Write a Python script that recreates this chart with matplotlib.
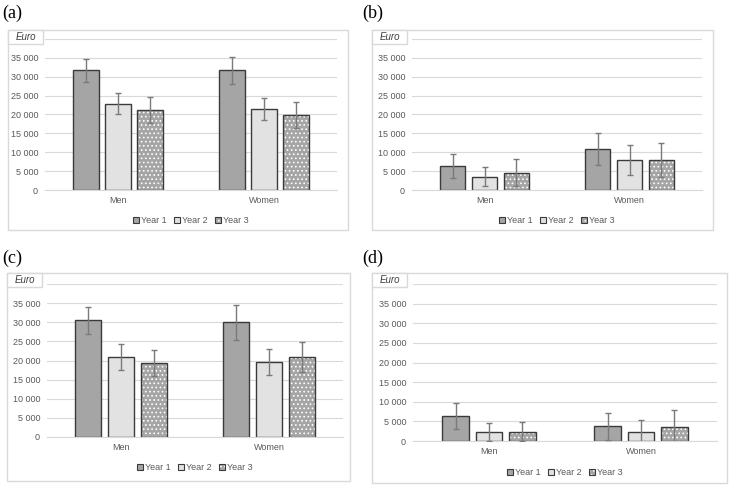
import matplotlib
matplotlib.use("Agg")
from matplotlib import pyplot as plt
from matplotlib.patches import Rectangle, Patch
from matplotlib.legend_handler import HandlerTuple
from matplotlib.ticker import FuncFormatter
import numpy as np

# data (Euro), order: Men, Women
categories = ["Men", "Women"]
series_names = ["Year 1", "Year 2", "Year 3"]

a_values = [[31700, 31700], [22900, 21450], [21250, 19900]]
a_errors = [[3050, 3500], [2900, 3000], [3400, 3350]]

b_values = [[6300, 10800], [3550, 7950], [4600, 7950]]
b_errors = [[3200, 4250], [2600, 3950], [3600, 4550]]

c_values = [[30550, 29950], [20900, 19700], [19350, 21000]]
c_errors = [[3500, 4500], [3400, 3400], [3400, 3900]]

d_values = [[6400, 3750], [2350, 2400], [2400, 3600]]
d_errors = [[3300, 3400], [2300, 3050], [2400, 4350]]

panel_labels = ["(a)", "(b)", "(c)", "(d)"]

W, H = 729, 486
GRID = "#d9d9d9"
TXT = "#595959"
EDGE = "#3a3a3a"
ERR = "#7a7a7a"
fills = ["#a5a5a5", "#e2e2e2", "#a5a5a5"]

plt.rcParams["font.family"] = ["Liberation Sans", "DejaVu Sans"]
plt.rcParams["hatch.linewidth"] = 0.7


def frac(x0, y0, x1, y1):
    # pixel box (top-left origin) -> figure fraction [left, bottom, w, h]
    return [x0 / W, 1 - y1 / H, (x1 - x0) / W, (y1 - y0) / H]


def fmt(v, pos):
    if v >= 40000:
        return ""
    return f"{int(v):,}".replace(",", " ")


fig = plt.figure(figsize=(W / 100, H / 100), dpi=100)

# panel layout: (outer box, plot area, label position)
panels = [
    ((8, 30, 348, 230), (45, 39, 337, 190), (2, 13), a_values, a_errors),
    ((372, 30, 713, 230), (412, 39, 702, 190), (362, 13), b_values, b_errors),
    ((7, 273, 350, 481), (47, 284, 343, 437), (2, 258), c_values, c_errors),
    ((372, 273, 727, 483), (413, 284, 717, 441), (362, 258), d_values, d_errors),
]

x = np.arange(len(categories))
width = 0.175
offsets = [-0.22, 0, 0.22]

for (box, area, lab, values, errors), label in zip(panels, panel_labels):
    bx0, by0, bx1, by1 = box
    fig.patches.append(Rectangle((bx0 / W, 1 - by1 / H), (bx1 - bx0) / W, (by1 - by0) / H,
                                 transform=fig.transFigure, fill=False,
                                 edgecolor=GRID, linewidth=1.0))
    # Euro box in the corner
    fig.patches.append(Rectangle((bx0 / W, 1 - (by0 + 14) / H), 35 / W, 14 / H,
                                 transform=fig.transFigure, facecolor="white",
                                 edgecolor=GRID, linewidth=1.0, zorder=3))
    fig.text((bx0 + 17.5) / W, 1 - (by0 + 7) / H, "Euro", fontsize=7, style="italic",
             color="#404040", ha="center", va="center", zorder=4)
    fig.text(lab[0] / W, 1 - lab[1] / H, label, fontsize=13, family="Liberation Serif",
             ha="left", va="center")

    ax = fig.add_axes(frac(*area))
    handles = []
    for i in range(3):
        pos = x + offsets[i]
        if i < 2:
            ax.bar(pos, values[i], width, color=fills[i], edgecolor=EDGE,
                   linewidth=1.0, zorder=2)
            handles.append(Patch(facecolor=fills[i], edgecolor=EDGE, linewidth=0.8))
        else:
            ax.bar(pos, values[i], width, color=fills[i], edgecolor="white",
                   hatch="....", linewidth=0, zorder=2)
            ax.bar(pos, values[i], width, fill=False, edgecolor=EDGE,
                   linewidth=1.0, zorder=2)
            handles.append((Patch(facecolor=fills[i], edgecolor="white", hatch="....", linewidth=0),
                            Patch(fill=False, edgecolor=EDGE, linewidth=0.8)))
        ax.errorbar(pos, values[i], yerr=errors[i], fmt="none", ecolor=ERR,
                    elinewidth=1.0, capsize=2.2, capthick=1.0, zorder=3)

    ax.set_xlim(-0.5, 1.5)
    ax.set_ylim(0, 40000)
    ax.set_yticks(np.arange(0, 40001, 5000))
    ax.yaxis.set_major_formatter(FuncFormatter(fmt))
    ax.set_xticks(x)
    ax.set_xticklabels(categories)
    ax.tick_params(axis="both", length=0, labelsize=6.5, colors=TXT, pad=4)
    ax.tick_params(axis="y", pad=5)
    ax.grid(axis="y", color=GRID, linewidth=0.8, zorder=0)
    ax.set_axisbelow(True)
    for s in ["top", "right", "left"]:
        ax.spines[s].set_visible(False)
    ax.spines["bottom"].set_color(GRID)
    ax.spines["bottom"].set_linewidth(0.8)

    ax.legend(handles, series_names, loc="upper center",
              bbox_to_anchor=(0.5, -0.12), ncol=3, frameon=False,
              fontsize=6.5, handlelength=0.7, handleheight=0.7,
              handletextpad=0.2, columnspacing=0.8, labelcolor=TXT,
              handler_map={tuple: HandlerTuple(ndivide=1)})

fig.savefig("out.png", dpi=100)
